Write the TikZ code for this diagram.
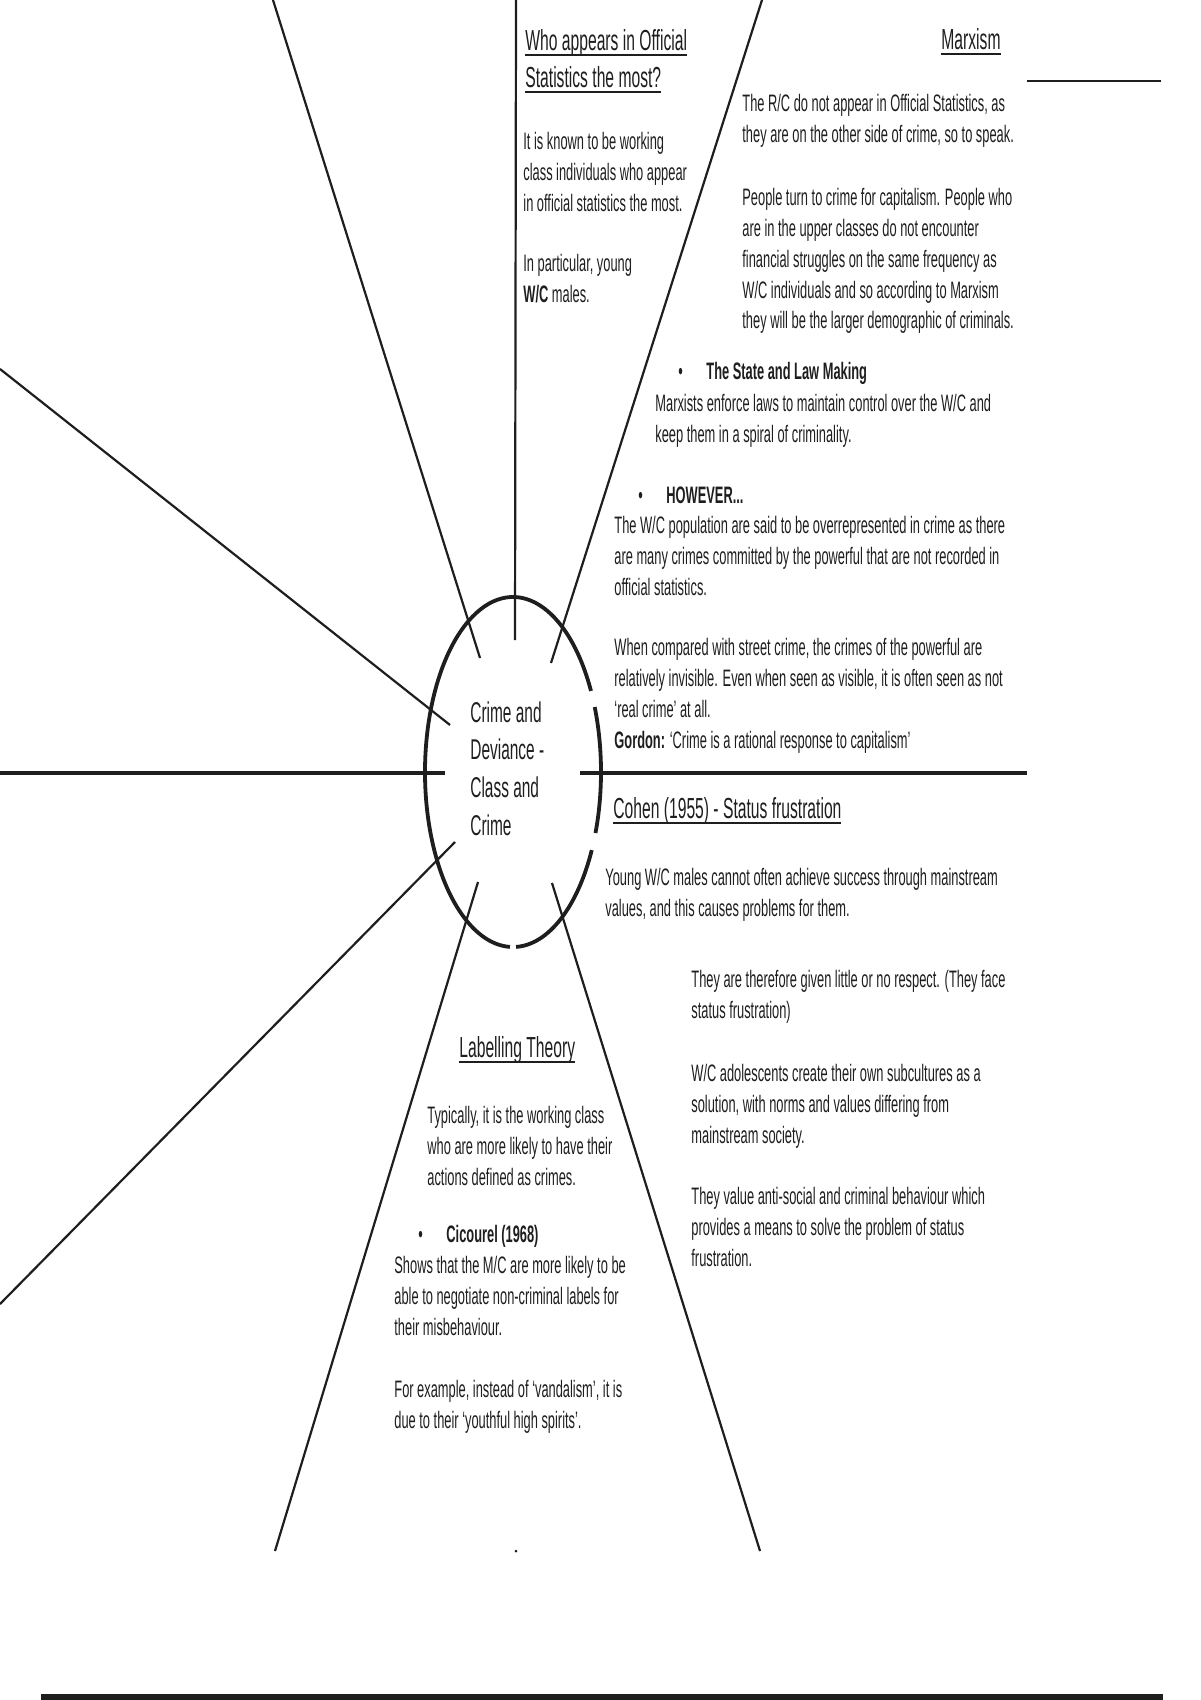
\documentclass[tikz,border=0pt]{standalone}
\usepackage{fontspec}
\setmainfont{Liberation Sans}[FakeStretch=0.54]
\newcommand\hdrule[1]{\leavevmode\setbox0\hbox{#1}\rlap{\rule[-2.9pt]{\wd0}{1.1pt}}\box0}
\definecolor{inkgrey}{RGB}{30,30,30}
\usetikzlibrary{calc}

\begin{document}
\begin{tikzpicture}[x=0.5pt, y=-0.5pt,
    spoke/.style={draw=inkgrey, line width=1.1pt},
    bar/.style={draw=inkgrey, line width=1.8pt},
    rim/.style={draw=inkgrey, line width=1.9pt},
    body/.style={anchor=north west, inner sep=0pt, align=left, text=inkgrey,
      font=\fontsize{11.9}{15.4}\selectfont},
    heading/.style={anchor=north west, inner sep=0pt, align=left, text=inkgrey,
      font=\fontsize{14.5}{18.5}\selectfont},
    hubtext/.style={anchor=north west, inner sep=0pt, align=left, text=inkgrey,
      font=\fontsize{14.3}{18.85}\selectfont}
  ]
    \useasboundingbox (0,0) rectangle (1200,1700);

    % Hub ellipse, drawn in three pieces
    \coordinate (hub) at (513,772);
    \draw[rim] (hub) ++(-27.6:88 and 175) arc[start angle=-27.6, end angle=-268, x radius=88, y radius=175];
    \draw[rim] (hub) ++(20.4:88 and 175) arc[start angle=20.4, end angle=-21.8, x radius=88, y radius=175];
    \draw[rim] (hub) ++(88:88 and 175) arc[start angle=88, end angle=26.5, x radius=88, y radius=175];
    \node[hubtext] (hubtitle) at (470,701) {Crime and\\Deviance -\\Class and\\Crime};

    % Spokes
    \foreach \nm/\ix/\iy/\ox/\oy in {nnw/480/658/273/0, n/515/640/516/0, nne/551/663/762/0,
        wnw/450/725/0/369, wsw/455/842/0/1304, ssw/478/882/275/1551, sse/552/883/760/1551} {
      \coordinate (\nm-in) at (\ix,\iy);
      \coordinate (\nm-out) at (\ox,\oy);
      \draw[spoke] (\nm-in) -- (\nm-out);
    }
    \coordinate (w-in) at (445,773);
    \coordinate (w-out) at (0,773);
    \coordinate (e-in) at (580,773);
    \coordinate (e-out) at (1027,773);
    \draw[bar] (w-in) -- (w-out);
    \draw[bar] (e-in) -- (e-out);

    % Loose marks
    \coordinate (tr-a) at (1027,81);
    \coordinate (tr-b) at (1161,81);
    \draw[spoke, line width=1.4pt] (tr-a) -- (tr-b);
    \coordinate (foot-a) at (41,1697);
    \coordinate (foot-b) at (1163,1697);
    \draw[bar, line width=2.6pt] (foot-a) -- (foot-b);
    \fill[inkgrey] (516,1551) circle[radius=1.5];

    % Official statistics
    \node[heading] (whohead) at (525,29) {\hdrule{Who appears in Official}\\\hdrule{Statistics the most?}};
    \node[body] (whotext) at (523,132) {It is known to be working\\class individuals who appear\\in official statistics the most.};
    \node[body] (whoyoung) at (523,254) {In particular, young\\\textbf{W/C} males.};

    % Marxism
    \node[heading] (marxhead) at (941,28) {\hdrule{Marxism}};
    \node[body] (marxrc) at (742,94) {The R/C do not appear in Official Statistics, as\\they are on the other side of crime, so to speak.};
    \node[body] (marxcap) at (742,188) {People turn to crime for capitalism. People who\\are in the upper classes do not encounter\\financial struggles on the same frequency as\\W/C individuals and so according to Marxism\\they will be the larger demographic of criminals.};
    \node[body] (statehead) at (678,362) {\makebox[14pt][l]{•}\textbf{The State and Law Making}};
    \node[body] (statetext) at (655,394) {Marxists enforce laws to maintain control over the W/C and\\keep them in a spiral of criminality.};
    \node[body] (howhead) at (638,486) {\makebox[14pt][l]{•}\textbf{HOWEVER...}};
    \node[body] (howtext) at (614,516) {The W/C population are said to be overrepresented in crime as there\\are many crimes committed by the powerful that are not recorded in\\official statistics.};
    \node[body] (powerful) at (614,638) {When compared with street crime, the crimes of the powerful are\\relatively invisible. Even when seen as visible, it is often seen as not\\‘real crime’ at all.\\\textbf{Gordon:} ‘Crime is a rational response to capitalism’};

    % Cohen
    \node[heading] (cohenhead) at (613,797) {\hdrule{Cohen (1955) - Status frustration}};
    \node[body] (cohenyoung) at (605,868) {Young W/C males cannot often achieve success through mainstream\\values, and this causes problems for them.};
    \node[body] (cohenrespect) at (691,970) {They are therefore given little or no respect. (They face\\status frustration)};
    \node[body] (cohensub) at (691,1064) {W/C adolescents create their own subcultures as a\\solution, with norms and values differing from\\mainstream society.};
    \node[body] (cohenvalue) at (691,1187) {They value anti-social and criminal behaviour which\\provides a means to solve the problem of status\\frustration.};

    % Labelling theory
    \node[heading] (labelhead) at (459,1036) {\hdrule{Labelling Theory}};
    \node[body] (labeltext) at (427,1106) {Typically, it is the working class\\who are more likely to have their\\actions defined as crimes.};
    \node[body] (cicourel) at (418,1225) {\makebox[14pt][l]{•}\textbf{Cicourel (1968)}};
    \node[body] (cictext) at (394,1256) {Shows that the M/C are more likely to be\\able to negotiate non-criminal labels for\\their misbehaviour.};
    \node[body] (cicexample) at (394,1380) {For example, instead of ‘vandalism’, it is\\due to their ‘youthful high spirits’.};

  \end{tikzpicture}
\end{document}
